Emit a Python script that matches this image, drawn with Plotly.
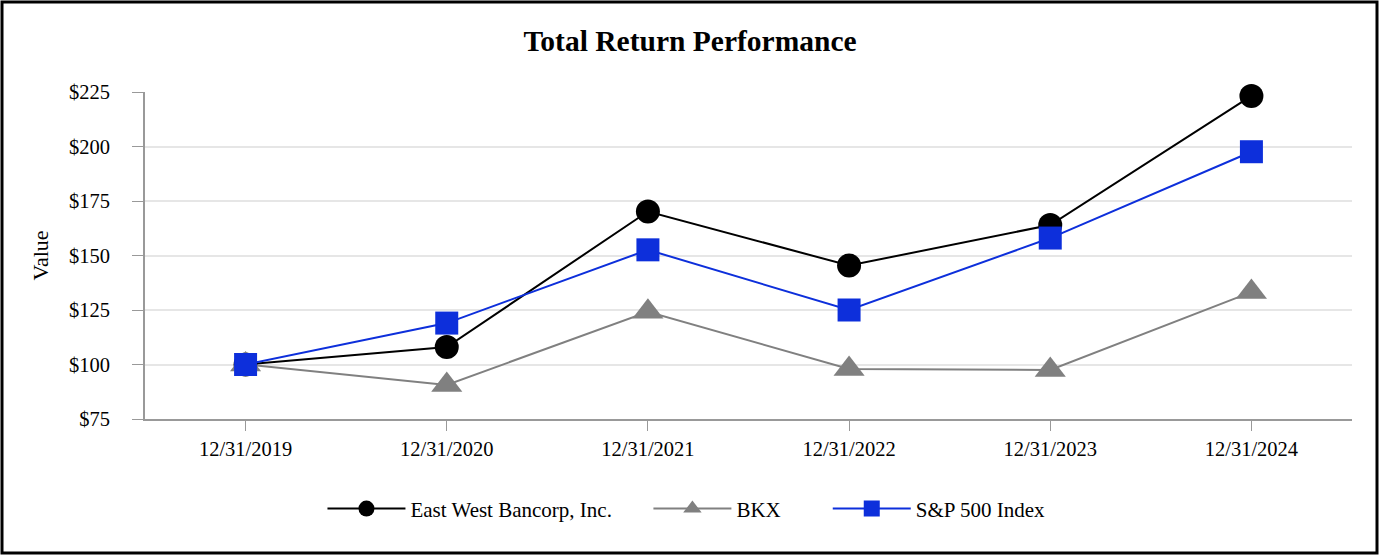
import plotly.graph_objects as go

# cumulative value of $100 invested
years = ["12/31/2019", "12/31/2020", "12/31/2021", "12/31/2022", "12/31/2023", "12/31/2024"]
ewbc = [100, 108, 170.2, 145.4, 164, 223.2]
bkx = [100, 90.6, 124.2, 97.9, 97.5, 133.2]
spx = [100, 119, 152.6, 125, 158, 197.6]

FONT = "Liberation Serif, Times New Roman, serif"
W, H = 1380, 556
L, R, T, B = 145, 28, 92, 137
NB = "\u00a0"  # extra room between legend entries

fig = go.Figure()
fig.add_trace(go.Scatter(x=years, y=ewbc, name="East West Bancorp, Inc." + NB * 6, mode="lines+markers",
                         line=dict(color="black", width=2), cliponaxis=False,
                         marker=dict(symbol="circle", size=24, color="black")))
fig.add_trace(go.Scatter(x=years, y=bkx, name="BKX" + NB * 8, mode="lines+markers",
                         line=dict(color="#808080", width=2), cliponaxis=False,
                         marker=dict(symbol="triangle-up", size=27, color="#808080")))
fig.add_trace(go.Scatter(x=years, y=spx, name="S&P 500 Index", mode="lines+markers",
                         line=dict(color="#0d2fdb", width=2), cliponaxis=False,
                         marker=dict(symbol="square", size=23, color="#0d2fdb")))

# black frame round the whole picture
pw, ph = W - L - R, H - T - B
fig.add_shape(type="rect", xref="paper", yref="paper",
              x0=-(L - 2) / pw, x1=1 + (R - 3) / pw,
              y0=-(B - 3) / ph, y1=1 + (T - 2) / ph,
              line=dict(color="black", width=3), layer="above")

fig.update_layout(
    width=W, height=H,
    margin=dict(l=L, r=R, t=T, b=B),
    paper_bgcolor="white", plot_bgcolor="white",
    font=dict(family=FONT, size=20, color="black"),
    title=dict(text="<b>Total Return Performance</b>", x=0.5, xanchor="center",
               y=1 - 41 / H, yanchor="middle", font=dict(size=29.5, family=FONT)),
    showlegend=True,
    legend=dict(orientation="h", x=0.4486, xanchor="center", y=-0.275, yanchor="middle",
                font=dict(size=21, family=FONT), itemwidth=78, traceorder="normal"),
    xaxis=dict(type="category", range=[-0.5, 5.5], showline=True, linecolor="#999999",
               linewidth=2, ticks="outside", ticklen=10, tickcolor="#999999",
               tickfont=dict(size=20.5), showgrid=False),
    yaxis=dict(range=[75, 225], dtick=25, tickprefix="$", showline=True,
               linecolor="#999999", linewidth=2, ticks="outside", ticklen=11,
               tickcolor="#999999", gridcolor="#e6e6e6", gridwidth=1.5,
               tickfont=dict(size=20.5), ticklabelstandoff=18, zeroline=False,
               title=dict(text="Value", font=dict(size=22), standoff=14)),
)

fig.write_html("out.html", config={"displayModeBar": False},
               post_script="document.body.style.margin='0px';")
